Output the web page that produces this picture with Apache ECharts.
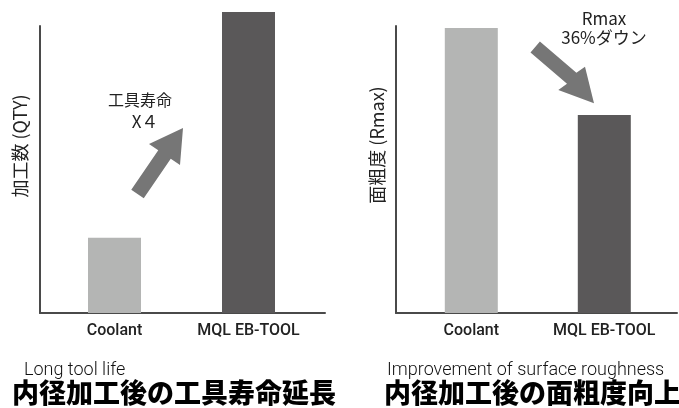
<!DOCTYPE html>
<html>
<head>
<meta charset="utf-8">
<script src="https://cdn.jsdelivr.net/npm/echarts@6/dist/echarts.min.js"></script>
<style>
  html, body { margin: 0; padding: 0; background: #fff; }
  #chart { width: 679px; height: 408px; }
</style>
</head>
<body>
<div id="chart"></div>
<script>
// data
const categories = ['Coolant', 'MQL EB-TOOL']
const toolLife = [1, 4]            // 加工数 (relative)
const roughness = [100, 69.5]      // 面粗度 Rmax (relative)
const barColors = ['#b4b5b4', '#5a5859']

const jp = '"Noto Sans CJK JP", sans-serif'
const axisColor = '#4a4a4a'

const myChart = echarts.init(document.getElementById('chart'))

function barSeries (grid, values) {
    return {
        type: 'bar',
        xAxisIndex: grid,
        yAxisIndex: grid,
        barWidth: 53,
        clip: false,
        silent: true,
        data: values.map((v, i) => ({ value: v, itemStyle: { color: barColors[i] } }))
    }
}

// hidden axes for the bar grids, visible lines for the frame grids
const frameAxis = { type: 'value', axisLine: { show: true, lineStyle: { color: axisColor, width: 2 } }, axisTick: { show: false }, axisLabel: { show: false }, splitLine: { show: false } }
const catX = {
    type: 'category',
    data: categories,
    axisLine: { show: false },
    axisTick: { show: false },
    axisLabel: { interval: 0, color: '#222', fontSize: 16, fontWeight: 500, fontFamily: 'Roboto', margin: 10 }
}
const hiddenY = { type: 'value', min: 0, show: false }
const enStyle = { fontSize: 18, fontWeight: 300, fontFamily: 'Roboto', color: '#111' }
const jpTitle = { fontSize: 27, fontWeight: 900, fontFamily: jp, color: '#000' }

myChart.setOption({
    animation: false,
    grid: [
        { left: 47.5, top: 12, width: 268, height: 301 },   // left bars
        { left: 404.8, top: 28, width: 266, height: 285 },  // right bars
        { left: 40, top: 26, width: 285, height: 287 },     // left frame
        { left: 396, top: 26, width: 281, height: 287 }     // right frame
    ],
    xAxis: [
        Object.assign({ gridIndex: 0 }, catX),
        Object.assign({ gridIndex: 1 }, catX),
        Object.assign({ gridIndex: 2 }, frameAxis),
        Object.assign({ gridIndex: 3 }, frameAxis)
    ],
    yAxis: [
        Object.assign({ gridIndex: 0, max: 4 }, hiddenY),
        Object.assign({ gridIndex: 1, max: 100 }, hiddenY),
        Object.assign({ gridIndex: 2 }, frameAxis),
        Object.assign({ gridIndex: 3 }, frameAxis)
    ],
    title: [
        { text: 'Long tool life', left: 24, top: 361, padding: 0, textStyle: enStyle },
        { text: '内径加工後の工具寿命延長', left: 12, top: 379, padding: 0, textStyle: jpTitle },
        { text: 'Improvement of surface roughness', left: 387, top: 361, padding: 0, textStyle: enStyle },
        { text: '内径加工後の面粗度向上', left: 384, top: 379, padding: 0, textStyle: jpTitle }
    ],
    graphic: [
        { type: 'text', x: 20, y: 146, rotation: Math.PI / 2, style: { text: '加工数 (QTY)', fontSize: 18, fontFamily: jp, fill: '#222', align: 'center', verticalAlign: 'middle' } },
        { type: 'text', x: 377, y: 145, rotation: Math.PI / 2, style: { text: '面粗度 (Rmax)', fontSize: 18, fontFamily: jp, fill: '#222', align: 'center', verticalAlign: 'middle' } },
        { type: 'text', x: 140, y: 100, style: { text: '工具寿命', fontSize: 16, fontFamily: jp, fill: '#222', align: 'center', verticalAlign: 'middle' } },
        { type: 'text', x: 145, y: 122, style: { text: 'X４', fontSize: 17, fontFamily: jp, fill: '#222', align: 'center', verticalAlign: 'middle' } },
        { type: 'text', x: 604, y: 19, style: { text: 'Rmax', fontSize: 17, fontFamily: jp, fill: '#222', align: 'center', verticalAlign: 'middle' } },
        { type: 'text', x: 604, y: 38, style: { text: '36%ダウン', fontSize: 17, fontFamily: jp, fill: '#222', align: 'center', verticalAlign: 'middle' } },
        // block arrows
        { type: 'polygon', shape: { points: [[131.25, 189.7], [158.25, 150.2], [149, 144], [183, 128], [180, 165], [170.75, 158.8], [143.75, 198.3]] }, style: { fill: '#767676' } },
        { type: 'polygon', shape: { points: [[530.5, 52.5], [567, 83.8], [558.3, 90], [594, 103.3], [585, 66.7], [576.4, 72.8], [539.9, 41.5]] }, style: { fill: '#767676' } }
    ],
    series: [
        barSeries(0, toolLife),
        barSeries(1, roughness)
    ]
})
</script>
</body>
</html>
